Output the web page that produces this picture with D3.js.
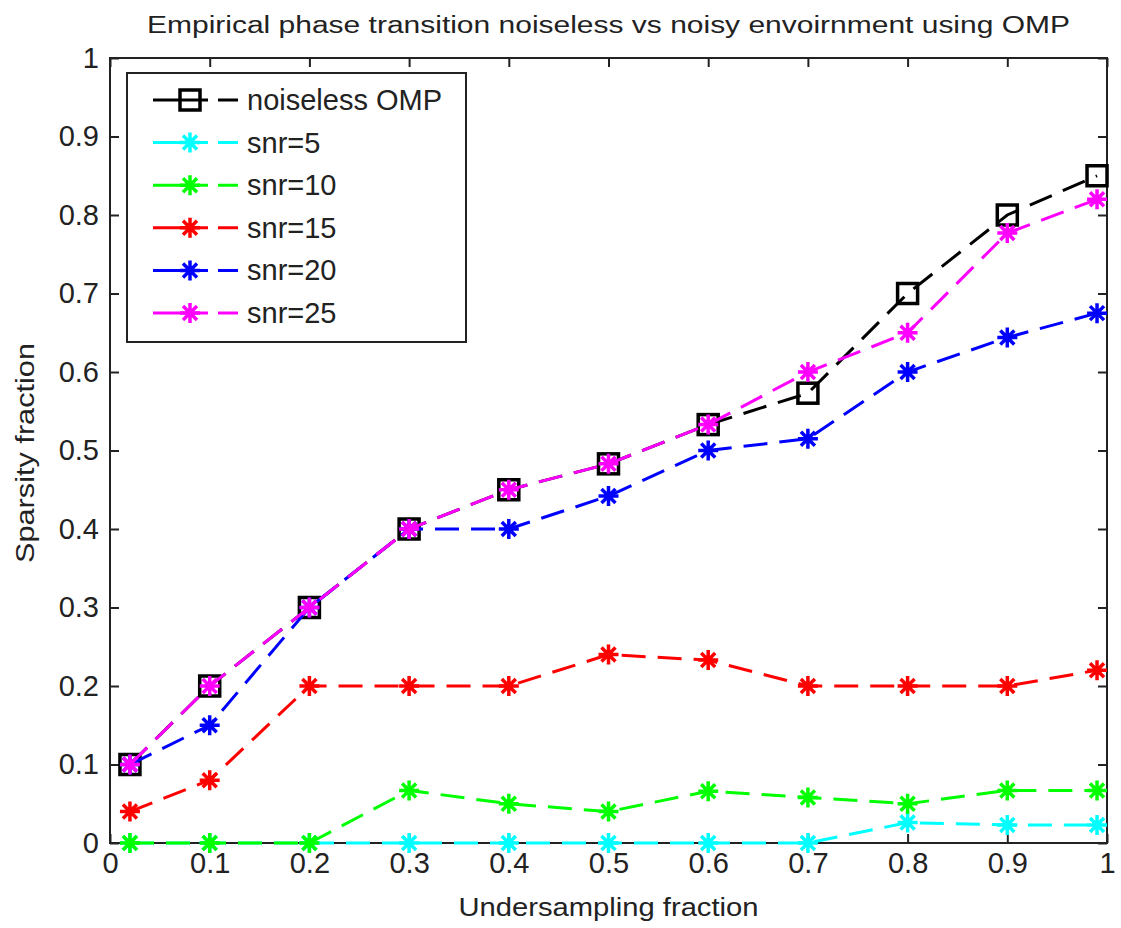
<!DOCTYPE html>
<html>
<head>
<meta charset="utf-8">
<script src="https://cdn.jsdelivr.net/npm/d3@7"></script>
<style>
  body { margin: 0; background: #fff; }
  svg text { font-family: "Liberation Sans", Arial, sans-serif; fill: #222; }
</style>
</head>
<body>
<svg id="chart" width="1121" height="928"></svg>
<script>
// undersampling fraction (x) shared by every series
const xVals = [0.02, 0.1, 0.2, 0.3, 0.4, 0.5, 0.6, 0.7, 0.8, 0.9, 0.99];

const noiseless = [0.1, 0.2, 0.3, 0.4, 0.45, 0.483, 0.533, 0.573, 0.7, 0.8, 0.85];
const snr5  = [0, 0, 0, 0, 0, 0, 0, 0, 0.026, 0.023, 0.023];
const snr10 = [0, 0, 0, 0.067, 0.05, 0.04, 0.066, 0.058, 0.05, 0.067, 0.067];
const snr15 = [0.04, 0.08, 0.2, 0.2, 0.2, 0.24, 0.233, 0.2, 0.2, 0.2, 0.22];
const snr20 = [0.1, 0.15, 0.3, 0.4, 0.4, 0.442, 0.5, 0.515, 0.6, 0.644, 0.675];
const snr25 = [0.1, 0.2, 0.3, 0.4, 0.45, 0.483, 0.533, 0.6, 0.65, 0.777, 0.82];

const seriesNames = ['noiseless OMP', 'snr=5', 'snr=10', 'snr=15', 'snr=20', 'snr=25'];
const seriesValues = [noiseless, snr5, snr10, snr15, snr20, snr25];
const seriesColors = ['#000000', '#00ffff', '#00ff00', '#ff0000', '#0000ff', '#ff00ff'];
const seriesMarkers = ['square', 'star', 'star', 'star', 'star', 'star'];

const tickVals = [0, 0.1, 0.2, 0.3, 0.4, 0.5, 0.6, 0.7, 0.8, 0.9, 1];

const titleText = 'Empirical phase transition noiseless vs noisy envoirnment using OMP';
const xLabel = 'Undersampling fraction';
const yLabel = 'Sparsity fraction';

const svg = d3.select('#chart');
const [pLeft, pRight, pTop, pBottom] = [110, 1107, 58, 843];

const x = d3.scaleLinear().domain([0, 1]).range([pLeft, pRight]);
const y = d3.scaleLinear().domain([0, 1]).range([pBottom, pTop]);
const fmt = d3.format('~g');

// axes, ticks pointing inward on all four sides
const bx = svg.append('g').attr('transform', `translate(0,${pBottom})`)
    .call(d3.axisBottom(x).tickValues(tickVals).tickFormat(fmt).tickSizeInner(-9).tickSizeOuter(0).tickPadding(9));
const lx = svg.append('g').attr('transform', `translate(${pLeft},0)`)
    .call(d3.axisLeft(y).tickValues(tickVals).tickFormat(fmt).tickSizeInner(-9).tickSizeOuter(0).tickPadding(11));
const tx = svg.append('g').attr('transform', `translate(0,${pTop})`)
    .call(d3.axisTop(x).tickValues(tickVals).tickFormat('').tickSizeInner(-9).tickSizeOuter(0));
const rx = svg.append('g').attr('transform', `translate(${pRight},0)`)
    .call(d3.axisRight(y).tickValues(tickVals).tickFormat('').tickSizeInner(-9).tickSizeOuter(0));

[bx, lx, tx, rx].forEach(g => {
    g.select('.domain').remove();
    g.selectAll('line').attr('stroke', '#222').attr('stroke-width', 2);
    g.selectAll('text').style('font-size', '29px').attr('fill', '#222');
});

svg.append('rect')
    .attr('x', pLeft).attr('y', pTop)
    .attr('width', pRight - pLeft).attr('height', pBottom - pTop)
    .attr('fill', 'none').attr('stroke', '#222').attr('stroke-width', 2);

// titles
svg.append('text')
    .attr('x', (pLeft + pRight) / 2).attr('y', 33)
    .attr('text-anchor', 'middle')
    .attr('textLength', 923).attr('lengthAdjust', 'spacingAndGlyphs')
    .style('font-size', '23px')
    .text(titleText);

svg.append('text')
    .attr('x', (pLeft + pRight) / 2).attr('y', 916)
    .attr('text-anchor', 'middle')
    .attr('textLength', 300).attr('lengthAdjust', 'spacingAndGlyphs')
    .style('font-size', '25px')
    .text(xLabel);

svg.append('text')
    .attr('transform', `translate(34,453) rotate(-90)`)
    .attr('text-anchor', 'middle')
    .attr('textLength', 220).attr('lengthAdjust', 'spacingAndGlyphs')
    .style('font-size', '25px')
    .text(yLabel);

// markers
function drawMarker(g, type, color) {
    if (type === 'square') {
        g.append('rect')
            .attr('x', -10).attr('y', -10).attr('width', 20).attr('height', 20)
            .attr('fill', 'none').attr('stroke', color).attr('stroke-width', 3.5);
    } else {
        const s = 10, d = 7;
        g.append('path')
            .attr('d', `M${-s},0L${s},0M0,${-s}L0,${s}M${-d},${-d}L${d},${d}M${-d},${d}L${d},${-d}`)
            .attr('fill', 'none').attr('stroke', color).attr('stroke-width', 3.5);
    }
}

const line = d3.line().x(d => x(d[0])).y(d => y(d[1]));

const plot = svg.append('g');
seriesValues.forEach((vals, i) => {
    const pts = xVals.map((xv, j) => [xv, vals[j]]);
    const g = plot.append('g');
    g.append('path')
        .attr('d', line(pts))
        .attr('fill', 'none')
        .attr('stroke', seriesColors[i])
        .attr('stroke-width', 3)
        .attr('stroke-dasharray', '24,12');
    pts.forEach(p => {
        const m = g.append('g').attr('transform', `translate(${x(p[0])},${y(p[1])})`);
        drawMarker(m, seriesMarkers[i], seriesColors[i]);
    });
});

// legend
const leg = svg.append('g');
leg.append('rect')
    .attr('x', 127).attr('y', 73).attr('width', 339).attr('height', 269)
    .attr('fill', '#fff').attr('stroke', '#222').attr('stroke-width', 2);

const legY = d3.scalePoint().domain(seriesNames).range([100, 313]);
seriesNames.forEach((name, i) => {
    const ry = legY(name);
    leg.append('line')
        .attr('x1', 153).attr('x2', 238).attr('y1', ry).attr('y2', ry)
        .attr('stroke', seriesColors[i]).attr('stroke-width', 3)
        .attr('stroke-dasharray', '55,10,20');
    drawMarker(leg.append('g').attr('transform', `translate(190,${ry})`), seriesMarkers[i], seriesColors[i]);
    leg.append('text')
        .attr('x', 247).attr('y', ry + 10)
        .style('font-size', '29px')
        .text(name);
});
</script>
</body>
</html>
